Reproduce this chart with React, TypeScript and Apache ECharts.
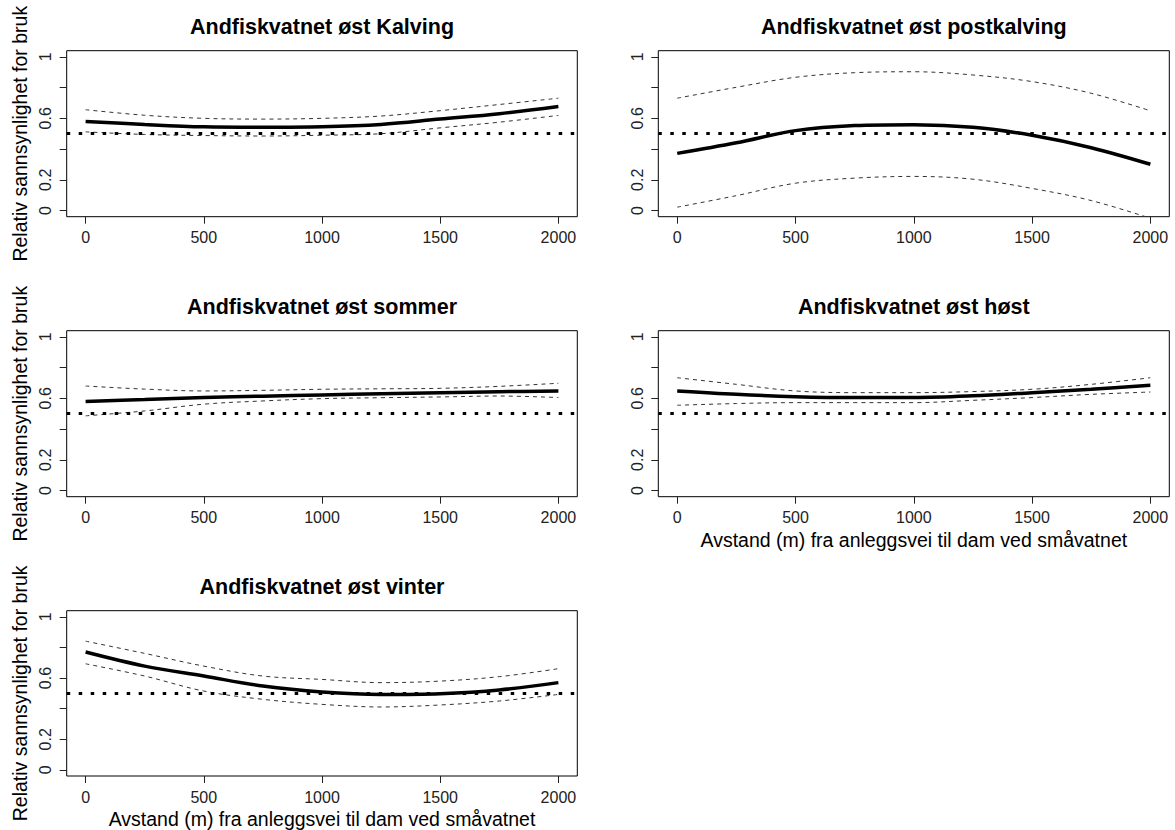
import React, { useEffect, useRef } from "react";
import * as echarts from "echarts";

const X = [0, 250, 500, 750, 1000, 1250, 1500, 1750, 2000];
const X_TICKS = [0, 500, 1000, 1500, 2000];
const Y_TICKS = [0, 0.2, 0.4, 0.6, 0.8, 1];
const Y_LABELS = [0, 0.2, 0.6, 1];
const REF = 0.5;

const TITLES = [
  "Andfiskvatnet øst Kalving",
  "Andfiskvatnet øst postkalving",
  "Andfiskvatnet øst sommer",
  "Andfiskvatnet øst høst",
  "Andfiskvatnet øst vinter",
];

const kalvingFit = [0.58, 0.56, 0.545, 0.542, 0.545, 0.56, 0.595, 0.63, 0.677];
const kalvingUp = [0.656, 0.62, 0.6, 0.595, 0.6, 0.615, 0.65, 0.69, 0.731];
const kalvingLo = [0.512, 0.495, 0.488, 0.485, 0.49, 0.5, 0.538, 0.575, 0.619];

const postFit = [0.372, 0.441, 0.52, 0.553, 0.559, 0.542, 0.49, 0.409, 0.301];
const postUp = [0.731, 0.802, 0.867, 0.897, 0.903, 0.882, 0.839, 0.763, 0.649];
const postLo = [0.022, 0.097, 0.178, 0.211, 0.222, 0.204, 0.144, 0.065, -0.05];

const sommerFit = [0.579, 0.592, 0.605, 0.614, 0.622, 0.63, 0.637, 0.643, 0.648];
const sommerUp = [0.68, 0.66, 0.648, 0.652, 0.659, 0.662, 0.665, 0.678, 0.698];
const sommerLo = [0.486, 0.518, 0.562, 0.583, 0.598, 0.604, 0.609, 0.615, 0.605];

const hostFit = [0.648, 0.626, 0.611, 0.605, 0.605, 0.616, 0.637, 0.659, 0.685];
const hostUp = [0.734, 0.691, 0.648, 0.637, 0.637, 0.644, 0.659, 0.691, 0.734];
const hostLo = [0.555, 0.566, 0.572, 0.572, 0.572, 0.587, 0.605, 0.626, 0.641];

const vinterFit = [0.77, 0.678, 0.613, 0.548, 0.509, 0.493, 0.498, 0.522, 0.57];
const vinterUp = [0.841, 0.761, 0.678, 0.613, 0.591, 0.57, 0.58, 0.609, 0.661];
const vinterLo = [0.693, 0.613, 0.515, 0.461, 0.428, 0.411, 0.424, 0.45, 0.493];

const PANELS = [
  { fit: kalvingFit, up: kalvingUp, lo: kalvingLo },
  { fit: postFit, up: postUp, lo: postLo },
  { fit: sommerFit, up: sommerUp, lo: sommerLo },
  { fit: hostFit, up: hostUp, lo: hostLo },
  { fit: vinterFit, up: vinterUp, lo: vinterLo },
];

const Y_NAME = "Relativ sannsynlighet for bruk";
const X_NAME = "Avstand (m) fra anleggsvei til dam ved småvatnet";
const FONT = "'Liberation Sans', Arial, Helvetica, sans-serif";

export default function App() {
  const ref = useRef<HTMLDivElement>(null);
  useEffect(() => {
    if (!ref.current) return;
    const chart = echarts.init(ref.current, null, { renderer: "svg" });
    const lefts = [66.7, 658.3];
    const widths = [510.6, 511];
    const tops = [50.7, 330.7, 610.7];
    const H = 166;
    const grids: any[] = [];
    const xAxes: any[] = [];
    const yAxes: any[] = [];
    const series: any[] = [];
    const graphics: any[] = [];
    PANELS.forEach((p, i) => {
      const col = i % 2;
      const row = Math.floor(i / 2);
      grids.push({
        left: lefts[col],
        top: tops[row],
        width: widths[col],
        height: H,
        show: true,
        borderColor: "#000",
        borderWidth: 1,
        backgroundColor: "transparent",
      });
      const showXName = i === 3 || i === 4;
      xAxes.push({
        type: "value",
        gridIndex: i,
        min: -80,
        max: 2080,
        splitLine: { show: false },
        axisLine: { show: false, onZero: false },
        axisTick: { show: true, length: 7, customValues: X_TICKS, lineStyle: { color: "#222" } },
        axisLabel: {
          customValues: X_TICKS,
          margin: 13,
          fontSize: 16,
          color: "#222",
          fontFamily: FONT,
          formatter: (v: number) => String(v),
        },
        name: showXName ? X_NAME : "",
        nameLocation: "middle",
        nameGap: 33,
        nameTextStyle: { fontSize: 19.5, color: "#000", fontFamily: FONT },
      });
      yAxes.push({
        type: "value",
        gridIndex: i,
        min: -0.04,
        max: 1.04,
        splitLine: { show: false },
        axisLine: { show: false, onZero: false },
        axisTick: { show: true, length: 7, customValues: Y_TICKS, lineStyle: { color: "#222" } },
        axisLabel: {
          customValues: Y_LABELS,
          rotate: 90,
          margin: 13,
          fontSize: 16,
          color: "#222",
          fontFamily: FONT,
          formatter: (v: number) => String(Math.round(v * 10) / 10),
        },
        name: col === 0 ? Y_NAME : "",
        nameLocation: "middle",
        nameRotate: 90,
        nameGap: 37,
        nameTextStyle: { fontSize: 19.5, color: "#000", fontFamily: FONT },
      });
      const mk = (arr: number[]) => X.map((x, k) => [x, arr[k]]);
      const dashed = { color: "#333", width: 1, type: [4, 4] };
      series.push({
        type: "line",
        xAxisIndex: i,
        yAxisIndex: i,
        data: mk(p.up),
        symbol: "none",
        smooth: 0.35,
        lineStyle: dashed,
        clip: true,
        silent: true,
      });
      series.push({
        type: "line",
        xAxisIndex: i,
        yAxisIndex: i,
        data: mk(p.lo),
        symbol: "none",
        smooth: 0.35,
        lineStyle: dashed,
        clip: true,
        silent: true,
      });
      series.push({
        type: "line",
        xAxisIndex: i,
        yAxisIndex: i,
        data: mk(p.fit),
        symbol: "none",
        smooth: 0.35,
        lineStyle: { color: "#000", width: 3.5 },
        clip: true,
        silent: true,
        markLine: {
          silent: true,
          symbol: "none",
          label: { show: false },
          lineStyle: { color: "#000", width: 3, type: [3.5, 8.5], cap: "butt" },
          data: [{ yAxis: REF }],
        },
      });
      graphics.push({
        type: "text",
        x: lefts[col] + widths[col] / 2,
        y: tops[row] - 23.5,
        style: {
          text: TITLES[i],
          fontSize: 21.5,
          fontWeight: "bold",
          fontFamily: FONT,
          fill: "#000",
          textAlign: "center",
          textVerticalAlign: "middle",
        },
      });
    });
    chart.setOption({
      animation: false,
      backgroundColor: "#fff",
      grid: grids,
      xAxis: xAxes,
      yAxis: yAxes,
      series,
      graphic: graphics,
    });
    return () => chart.dispose();
  }, []);
  return (
    <div
      ref={ref}
      style={{ position: "fixed", left: 0, top: 0, width: 1175, height: 830, background: "#fff" }}
    />
  );
}
